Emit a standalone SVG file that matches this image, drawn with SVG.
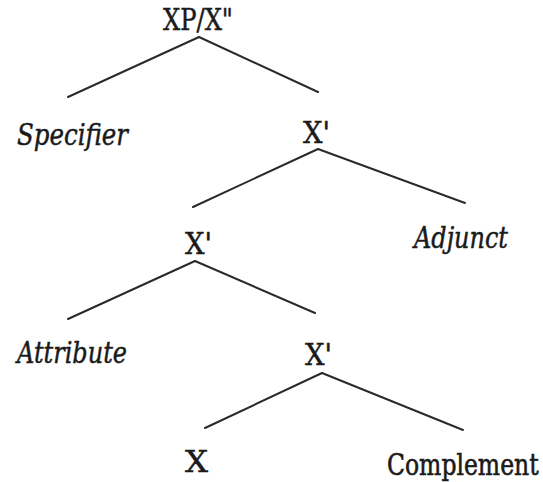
<svg xmlns="http://www.w3.org/2000/svg" width="543" height="482" viewBox="0 0 543 482">
  <style>
    .lbl { font-family: "DejaVu Serif", "Liberation Serif", serif; font-size: 30px; fill: #1a1a1a; stroke: #1a1a1a; stroke-width: 0.5px; }
    .it { font-style: italic; }
    .edge { stroke: #2a2a2a; stroke-width: 2; fill: none; stroke-linecap: round; }
  </style>
  <rect width="543" height="482" fill="#ffffff"/>
  <g id="connectors">
    <line class="edge" x1="199" y1="37" x2="68" y2="97"/>
    <line class="edge" x1="199" y1="37" x2="318" y2="92"/>
    <line class="edge" x1="318" y1="149" x2="193" y2="207"/>
    <line class="edge" x1="318" y1="149" x2="465" y2="203"/>
    <line class="edge" x1="195" y1="261" x2="68" y2="319"/>
    <line class="edge" x1="195" y1="261" x2="315" y2="313"/>
    <line class="edge" x1="322" y1="373" x2="205" y2="428"/>
    <line class="edge" x1="322" y1="373" x2="463" y2="430"/>
  </g>
  <g id="node-xp"><text class="lbl" x="163" y="30" textLength="70" lengthAdjust="spacingAndGlyphs">XP/X&quot;</text></g>
  <g id="node-specifier"><text class="lbl it" x="17" y="145" textLength="111" lengthAdjust="spacingAndGlyphs">Specifier</text></g>
  <g id="node-xbar1"><text class="lbl" x="303" y="143" textLength="27" lengthAdjust="spacingAndGlyphs">X'</text></g>
  <g id="node-adjunct"><text class="lbl it" x="414" y="248" textLength="94" lengthAdjust="spacingAndGlyphs">Adjunct</text></g>
  <g id="node-xbar2"><text class="lbl" x="185" y="254" textLength="27" lengthAdjust="spacingAndGlyphs">X'</text></g>
  <g id="node-attribute"><text class="lbl it" x="17" y="363" textLength="110" lengthAdjust="spacingAndGlyphs">Attribute</text></g>
  <g id="node-xbar3"><text class="lbl" x="305" y="365" textLength="27" lengthAdjust="spacingAndGlyphs">X'</text></g>
  <g id="node-x"><text class="lbl" x="185" y="472" textLength="23" lengthAdjust="spacingAndGlyphs">X</text></g>
  <g id="node-complement"><text class="lbl" transform="translate(387,475) scale(1,1.25)" x="0" y="0" style="font-size:23.5px">Complement</text></g>
</svg>
